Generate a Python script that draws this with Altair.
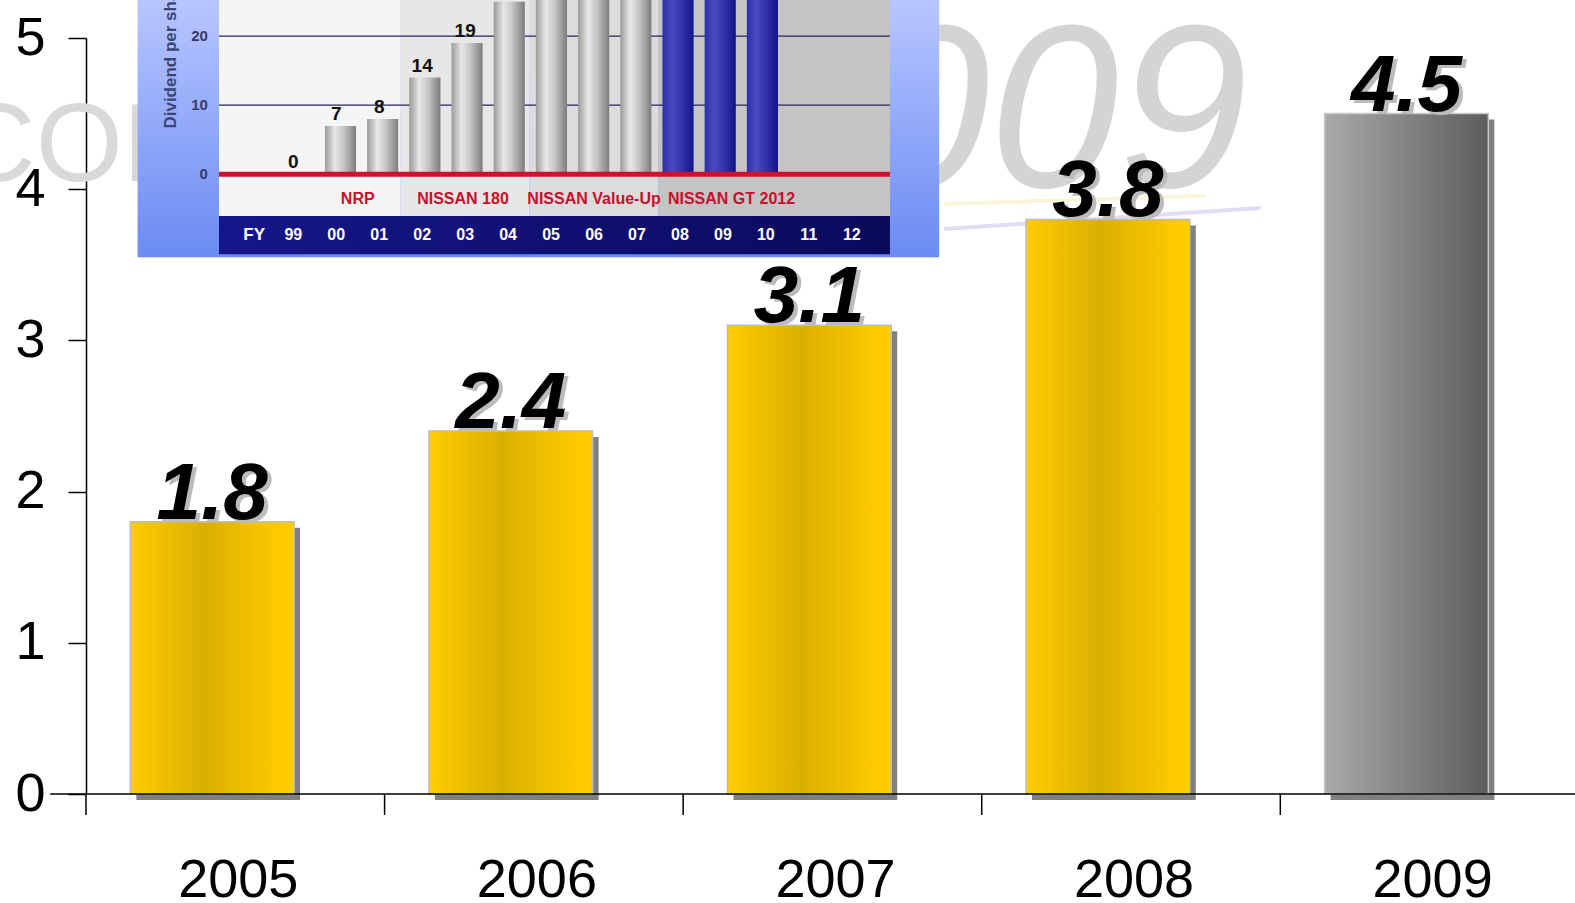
import altair as alt
import pandas as pd

# ---- main series: value per year ----
years = ["2005", "2006", "2007", "2008", "2009"]
values = [1.8, 2.4, 3.1, 3.8, 4.5]
y_ticks = [0, 1, 2, 3, 4, 5]

# ---- inset: dividend per share by fiscal year ----
fy_labels = ["99", "00", "01", "02", "03", "04", "05", "06", "07",
             "08", "09", "10", "11", "12"]
dividends = [0, 7, 8, 14, 19, 25, 29, 34, 40, 42, 42, 42]
plan_years = ["08", "09", "10"]
inset_grid = [10, 20]
inset_ticks = [0, 10, 20]
sections = ["NRP", "NISSAN 180", "NISSAN Value-Up", "NISSAN GT 2012"]
section_start = [-1.73, 2.5, 5.5, 8.5]   # in fiscal-year slots
section_end = [2.5, 5.5, 8.5, 13.89]
caption_at = [1.5, 3.95, 7.0, 10.2]

FONT = "Liberation Sans"
S = 1575 / 1568          # layout grid below is laid out on a 1568-wide page
LEFT, TOP = 86, 38
W, H = 1489, 756
PAD = {"left": LEFT, "top": TOP, "right": 0, "bottom": 903 - TOP - H}


def rx(x):
    return x * S - LEFT


def ry(y):
    return y * S - TOP


main_df = pd.DataFrame({"year": years, "value": values})
div_df = pd.DataFrame({"fy": fy_labels[:len(dividends)],
                       "i": list(range(len(dividends))),
                       "dps": dividends})
fy_df = pd.DataFrame({"fy": fy_labels, "i": list(range(len(fy_labels)))})
sec_df = pd.DataFrame({"section": sections, "start": section_start,
                       "end": section_end, "mid": caption_at})
one = pd.DataFrame({"k": [0]})


def grad(stops, vertical=False):
    return alt.LinearGradient(
        gradient="linear",
        stops=[alt.GradientStop(color=c, offset=o) for o, c in stops],
        x1=0, y1=0, x2=0 if vertical else 1, y2=1 if vertical else 0,
    )


xs_main = alt.Scale(domain=years, range=[0, 5 * 297.25 * S],
                    paddingInner=0, paddingOuter=0)
ys_main = alt.Scale(domain=[0, 5], nice=False)
xs_in = alt.Scale(domain=[0, 13], range=[rx(292), rx(848)], nice=False, zero=False)
ys_in = alt.Scale(domain=[0, 20], range=[ry(173.5), ry(36)], nice=False)

BAR_W = 163 * S
BAR_DX = -23 * S

# ---- faint backdrop lettering ----
wm_2009 = alt.Chart(one).mark_text(
    text="2009", font=FONT, fontStyle="italic", fontSize=232,
    color="#d4d4d4", align="right", baseline="alphabetic"
).encode(x=alt.value(rx(1242)), y=alt.value(ry(186)))

wm_con = alt.Chart(one).mark_text(
    text="CON", font=FONT, fontSize=112, color="#d9d9d9",
    align="left", baseline="alphabetic"
).encode(x=alt.value(rx(-45)), y=alt.value(ry(180)))

swoosh_y = alt.Chart(one).mark_rule(color="#f8f5da", strokeWidth=4).encode(
    x=alt.value(rx(940)), x2=alt.value(rx(1200)),
    y=alt.value(ry(203)), y2=alt.value(ry(195)))
swoosh_p = alt.Chart(one).mark_rule(color="#e2dcf5", strokeWidth=4).encode(
    x=alt.value(rx(940)), x2=alt.value(rx(1255)),
    y=alt.value(ry(228)), y2=alt.value(ry(207)))

# ---- inset panel ----
inset_frame = alt.Chart(one).mark_rect(
    fill=grad([(0, "#b8c6ff"), (1, "#6b8bf3")], vertical=True)
).encode(x=alt.value(rx(137)), x2=alt.value(rx(935)),
         y=alt.value(-TOP), y2=alt.value(ry(256)))

inset_sections = alt.Chart(sec_df).mark_rect().encode(
    x=alt.X("start:Q", scale=xs_in, axis=None),
    x2="end:Q",
    y=alt.value(-TOP), y2=alt.value(ry(215)),
    color=alt.Color("section:N", legend=None,
                    scale=alt.Scale(domain=sections,
                                    range=["#f5f5f5", "#e7e7e7", "#dcdcdc", "#c4c4c4"])),
)

fy_band = alt.Chart(one).mark_rect(
    fill=grad([(0, "#16168a"), (1, "#0a0a5c")])
).encode(x=alt.value(rx(218)), x2=alt.value(rx(886)),
         y=alt.value(ry(215)), y2=alt.value(ry(253)))

inset_gridlines = alt.Chart(pd.DataFrame({"v": inset_grid})).mark_rule(
    color="#24245e", strokeWidth=1.2
).encode(y=alt.Y("v:Q", scale=ys_in, axis=None),
         x=alt.value(rx(218)), x2=alt.value(rx(886)))

plan_list = "[" + ",".join(f"'{p}'" for p in plan_years) + "]"

inset_bars_past = alt.Chart(div_df).transform_filter(
    f"indexof({plan_list}, datum.fy) < 0"
).mark_bar(
    size=31 * S,
    fill=grad([(0, "#9a9a9a"), (0.32, "#e8e8e8"), (0.6, "#c6c6c6"), (1, "#7c7c7c")]),
).encode(x=alt.X("i:Q", scale=xs_in, axis=None), y=alt.Y("dps:Q", scale=ys_in, axis=None))

inset_bars_plan = alt.Chart(div_df).transform_filter(
    f"indexof({plan_list}, datum.fy) >= 0"
).mark_bar(
    size=31 * S,
    fill=grad([(0, "#2e2ea8"), (0.3, "#4a4ac2"), (0.7, "#2c2ca6"), (1, "#121288")]),
).encode(x=alt.X("i:Q", scale=xs_in, axis=None), y=alt.Y("dps:Q", scale=ys_in, axis=None))

inset_zero = alt.Chart(pd.DataFrame({"v": [0]})).mark_rule(
    color="#d0102c", strokeWidth=5
).encode(y=alt.Y("v:Q", scale=ys_in, axis=None),
         x=alt.value(rx(218)), x2=alt.value(rx(886)))

inset_values = alt.Chart(div_df).mark_text(
    font=FONT, fontWeight="bold", fontSize=19, color="#111111",
    baseline="alphabetic", dy=-6
).encode(x=alt.X("i:Q", scale=xs_in, axis=None),
         y=alt.Y("dps:Q", scale=ys_in, axis=None),
         text="dps:Q")

inset_tick_labels = alt.Chart(pd.DataFrame({"v": inset_ticks})).mark_text(
    font=FONT, fontWeight="bold", fontSize=15, color="#363c6a",
    align="right", baseline="middle"
).encode(x=alt.value(rx(207)), y=alt.Y("v:Q", scale=ys_in, axis=None), text="v:Q")

inset_title = alt.Chart(one).mark_text(
    text="Dividend per share (yen)", font=FONT, fontWeight="bold", fontSize=17,
    color="#3a4574", angle=270, align="left", baseline="middle"
).encode(x=alt.value(rx(170)), y=alt.value(ry(128)))

inset_captions = alt.Chart(sec_df).mark_text(
    font=FONT, fontWeight="bold", fontSize=16, color="#c8102e", baseline="middle"
).encode(x=alt.X("mid:Q", scale=xs_in, axis=None), y=alt.value(ry(198)), text="section:N")

fy_text = alt.Chart(fy_df).mark_text(
    font=FONT, fontWeight="bold", fontSize=16, color="white", baseline="middle"
).encode(x=alt.X("i:Q", scale=xs_in, axis=None), y=alt.value(ry(234)), text="fy:N")

fy_head = alt.Chart(one).mark_text(
    text="FY", font=FONT, fontWeight="bold", fontSize=17, color="white", baseline="middle"
).encode(x=alt.value(rx(253)), y=alt.value(ry(234)))

# ---- main chart ----
last_year = years[-1]

bar_shadow = alt.Chart(main_df).mark_bar(
    size=BAR_W, xOffset=BAR_DX + 6, yOffset=6, color="#808080"
).encode(
    x=alt.X("year:N", scale=xs_main, axis=alt.Axis(
        title=None, labelFont=FONT, labelFontSize=54, labelColor="black",
        labelAngle=0, ticks=False, tickSize=0, domain=False,
        labelPadding=59, labelOffset=3)),
    y=alt.Y("value:Q", scale=ys_main, axis=alt.Axis(
        title=None, values=y_ticks, grid=False, labelFont=FONT, labelFontSize=54,
        labelColor="black", labelPadding=23, tickSize=18, tickColor="black",
        tickWidth=1.5, domainColor="black", domainWidth=1.5)),
)

bars_yellow = alt.Chart(main_df).transform_filter(
    alt.datum.year != last_year
).mark_bar(
    size=BAR_W, xOffset=BAR_DX, stroke="#bdbdbd", strokeWidth=1.5,
    fill=grad([(0, "#ffcc00"), (0.45, "#dab000"), (0.9, "#fdca00"), (1, "#ffcc00")]),
).encode(x=alt.X("year:N", scale=xs_main, axis=None),
         y=alt.Y("value:Q", scale=ys_main, axis=None))

bar_gray = alt.Chart(main_df).transform_filter(
    alt.datum.year == last_year
).mark_bar(
    size=BAR_W, xOffset=BAR_DX, stroke="#c8c8c8", strokeWidth=1.5,
    fill=grad([(0, "#a9aaac"), (1, "#5b5c5b")]),
).encode(x=alt.X("year:N", scale=xs_main, axis=None),
         y=alt.Y("value:Q", scale=ys_main, axis=None))

x_domain = alt.Chart(one).mark_rule(color="black", strokeWidth=1.5).encode(
    x=alt.value(rx(50)), x2=alt.value(W + 2), y=alt.value(H))

x_ticks = alt.Chart(main_df).mark_rule(color="black", strokeWidth=1.5).encode(
    x=alt.X("year:N", scale=xs_main, bandPosition=0, axis=None),
    y=alt.value(H), y2=alt.value(H + 21))

label_shadow = alt.Chart(main_df).mark_text(
    font=FONT, fontWeight="bold", fontStyle="italic", fontSize=80,
    color="#bcbcbc", baseline="alphabetic", dx=BAR_DX + 4, dy=0
).encode(x=alt.X("year:N", scale=xs_main, axis=None),
         y=alt.Y("value:Q", scale=ys_main, axis=None),
         text=alt.Text("value:Q", format=".1f"))

label_main = alt.Chart(main_df).mark_text(
    font=FONT, fontWeight="bold", fontStyle="italic", fontSize=80,
    color="black", baseline="alphabetic", dx=BAR_DX, dy=-3
).encode(x=alt.X("year:N", scale=xs_main, axis=None),
         y=alt.Y("value:Q", scale=ys_main, axis=None),
         text=alt.Text("value:Q", format=".1f"))

chart = alt.layer(
    wm_2009, wm_con, swoosh_y, swoosh_p,
    inset_frame, inset_sections, fy_band, inset_gridlines,
    inset_bars_past, inset_bars_plan, inset_zero, inset_values,
    inset_tick_labels, inset_title, inset_captions, fy_text, fy_head,
    bar_shadow, bars_yellow, bar_gray, x_domain, x_ticks,
    label_shadow, label_main,
).resolve_scale(
    x="independent", y="independent", color="independent"
).properties(
    width=W, height=H, padding=PAD, autosize="none", background="white"
).configure_view(stroke=None)

chart.save("out.html", embed_options={"renderer": "svg", "actions": False})
